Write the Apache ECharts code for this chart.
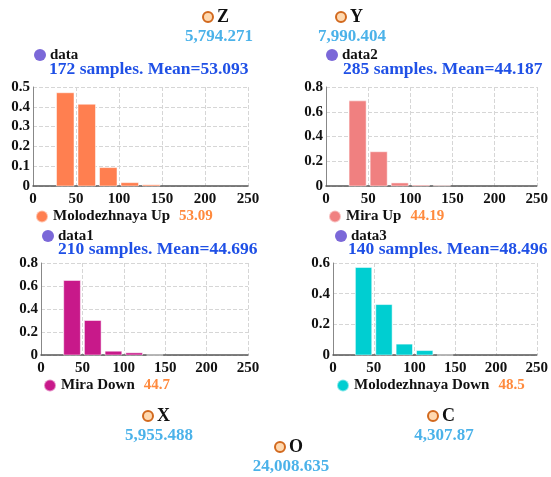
<!DOCTYPE html>
<html>
<head>
<meta charset="utf-8">
<script src="https://cdn.jsdelivr.net/npm/echarts@6/dist/echarts.min.js"></script>
<style>html,body{margin:0;padding:0;background:#fff}#c{width:551px;height:477px}</style>
</head>
<body>
<div id="c"></div>
<script>
// ---- data ----
const binStarts = [25, 50, 75, 100, 125];
const binEnds = [50, 75, 100, 125, 150];
const panelNames = ['Molodezhnaya Up', 'Mira Up', 'Mira Down', 'Molodezhnaya Down'];
const panelSources = ['data', 'data2', 'data1', 'data3'];
const panelSamples = [172, 285, 210, 140];
const panelMeans = ['53.093', '44.187', '44.696', '48.496'];
const panelMeanShort = ['53.09', '44.19', '44.7', '48.5'];
const molodezhnayaUp = [0.471, 0.413, 0.093, 0.017, 0.006];
const miraUp = [0.688, 0.277, 0.025, 0.007, 0.0035];
const miraDown = [0.648, 0.300, 0.033, 0.019, 0];
const molodezhnayaDown = [0.571, 0.329, 0.071, 0.029, 0];
const yMax = [0.5, 0.8, 0.8, 0.6];
const yInterval = [0.1, 0.2, 0.2, 0.2];
const xTicks = [0, 50, 100, 150, 200, 250];
const nodeNames = ['Z', 'Y', 'X', 'O', 'C'];
const nodeValues = ['5,794.271', '7,990.404', '5,955.488', '24,008.635', '4,307.87'];
const nodeX = [208, 341, 148, 280, 433];
const nodeY = [17, 17, 416, 447, 416];

const panelValues = [molodezhnayaUp, miraUp, miraDown, molodezhnayaDown];

// ---- layout / style ----
const FONT = '"Liberation Serif", "Times New Roman", serif';
const colors = ['#FF7F50', '#F08080', '#C8198A', '#00CED1'];
const grids = [
  {left: 33, right: 303, top: 87, bottom: 291},
  {left: 326, right: 11, top: 87, bottom: 291},
  {left: 41, right: 303, top: 263, bottom: 122},
  {left: 333, right: 11, top: 263, bottom: 122}
];
const headPos = [
  {icon: [34, 47], sub: [49, 59]},
  {icon: [326, 47], sub: [343, 59]},
  {icon: [42, 228], sub: [58, 239]},
  {icon: [335, 228], sub: [348, 239]}
];
const legendPos = [[35, 209], [328, 209], [43, 378], [336, 378]];

const chart = echarts.init(document.getElementById('c'));

const option = {
  backgroundColor: '#fff',
  animation: false,
  textStyle: {fontFamily: FONT},
  title: [],
  legend: [],
  grid: grids.map(g => Object.assign({containLabel: false}, g)).concat([{left: 0, right: 0, top: 0, bottom: 0}]),
  xAxis: [],
  yAxis: [],
  series: []
};

for (let i = 0; i < 4; i++) {
  option.title.push({
    left: headPos[i].icon[0], top: headPos[i].icon[1], padding: 0,
    text: '{i|}{t|' + panelSources[i] + '}',
    textStyle: {
      rich: {
        i: {width: 12, height: 12, borderRadius: 6, backgroundColor: '#7B68D8'},
        t: {fontFamily: FONT, fontWeight: 'bold', fontSize: 15, color: '#111', padding: [0, 0, 0, 4], lineHeight: 16}
      }
    }
  });
  option.title.push({
    left: headPos[i].sub[0], top: headPos[i].sub[1], padding: 0,
    text: panelSamples[i] + ' samples. Mean=' + panelMeans[i],
    textStyle: {fontFamily: FONT, fontWeight: 'bold', fontSize: 17.5, color: '#1F50E6', lineHeight: 20}
  });
  option.legend.push({
    left: legendPos[i][0], top: legendPos[i][1], padding: 0,
    data: [panelNames[i]],
    icon: 'circle', itemWidth: 12, itemHeight: 12, itemGap: 4,
    formatter: name => '{n|' + name + '}{v|' + panelMeanShort[i] + '}',
    textStyle: {
      rich: {
        n: {fontFamily: FONT, fontWeight: 'bold', fontSize: 15, color: '#111'},
        v: {fontFamily: FONT, fontWeight: 'bold', fontSize: 15, color: '#FF8A3D', padding: [0, 0, 0, 9]}
      }
    }
  });
  option.xAxis.push({
    type: 'value', gridIndex: i, min: 0, max: 250, interval: 50,
    axisLine: {show: true, lineStyle: {color: '#555', width: 1.5}},
    axisTick: {show: false},
    axisLabel: {margin: 6, fontFamily: FONT, fontWeight: 'bold', fontSize: 15, color: '#111',
      formatter: v => xTicks.indexOf(v) >= 0 ? String(v) : ''},
    splitLine: {show: true, lineStyle: {type: 'dashed', color: '#D6D6D6'}}
  });
  option.yAxis.push({
    type: 'value', gridIndex: i, min: 0, max: yMax[i], interval: yInterval[i],
    axisLine: {show: true, lineStyle: {color: '#888', width: 1}},
    axisTick: {show: false},
    axisLabel: {margin: 3, fontFamily: FONT, fontWeight: 'bold', fontSize: 15, color: '#111',
      formatter: v => String(Math.round(v * 10) / 10)},
    splitLine: {show: true, lineStyle: {type: 'dashed', color: '#D6D6D6'}}
  });
  option.series.push({
    type: 'custom', name: panelNames[i], xAxisIndex: i, yAxisIndex: i,
    itemStyle: {color: colors[i], borderColor: 'rgba(255,255,255,0.5)', borderWidth: 1},
    encode: {x: [0, 1], y: 2},
    data: binStarts.map((s, k) => [s, binEnds[k], panelValues[i][k]]),
    renderItem: function (params, api) {
      const p0 = api.coord([api.value(0), api.value(2)]);
      const p1 = api.coord([api.value(1), 0]);
      return {
        type: 'rect',
        shape: {x: p0[0] + 2, y: p0[1], width: p1[0] - p0[0] - 4, height: p1[1] - p0[1]},
        style: api.style()
      };
    }
  });
}

// node overlay coordinate system
option.xAxis.push({type: 'value', gridIndex: 4, min: 0, max: 551, show: false});
option.yAxis.push({type: 'value', gridIndex: 4, min: 0, max: 477, inverse: true, show: false});
const nodeData = nodeNames.map((n, k) => [nodeX[k], nodeY[k], n, nodeValues[k]]);
option.series.push({
  type: 'scatter', xAxisIndex: 4, yAxisIndex: 4, symbolSize: 1, z: 3,
  itemStyle: {color: 'rgba(0,0,0,0)'},
  data: nodeData,
  label: {show: true, position: 'inside', offset: [11, 20], formatter: p => p.data[3],
    fontFamily: FONT, fontWeight: 'bold', fontSize: 17, color: '#1E9FE3'}
});
option.series.push({
  type: 'scatter', xAxisIndex: 4, yAxisIndex: 4, symbolSize: 10, z: 4,
  itemStyle: {color: '#FFD9B0', borderColor: '#D2691E', borderWidth: 2, opacity: 1},
  data: nodeData,
  label: {show: true, position: 'right', distance: 3, formatter: p => p.data[2],
    fontFamily: FONT, fontWeight: 'bold', fontSize: 18, color: '#111'}
});

chart.setOption(option);
</script>
</body>
</html>
